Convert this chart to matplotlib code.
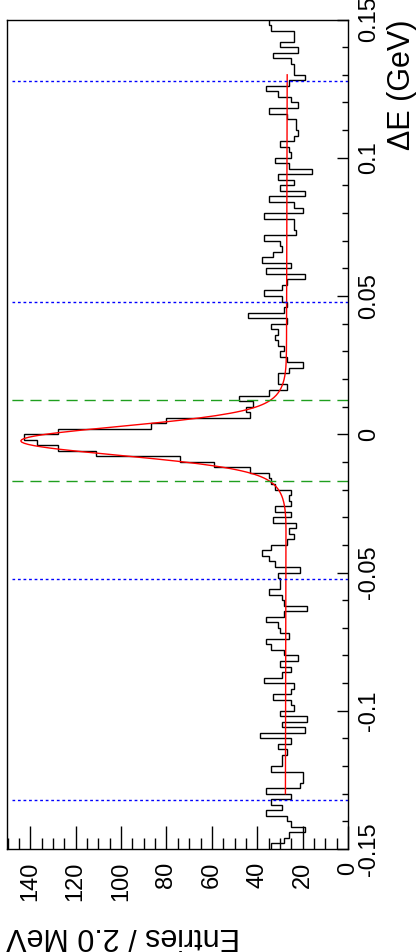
import numpy as np
import matplotlib
matplotlib.use('Agg')
import matplotlib.pyplot as plt
from matplotlib.ticker import MultipleLocator, FuncFormatter

plt.rcParams['font.family'] = ['Liberation Sans', 'DejaVu Sans']
plt.rcParams['axes.unicode_minus'] = False

# Delta E histogram, 2 MeV bins from -0.15 to 0.15 GeV
bin_lo = -0.15
bin_hi = 0.15
counts = [34, 28, 26, 19, 25, 27, 36, 29, 34, 25,
          36, 21, 20, 20, 34, 29, 29, 27, 31, 25,
          39, 19, 29, 18, 30, 24, 25, 33, 25, 24,
          37, 29, 25, 30, 22, 28, 34, 36, 26, 30,
          31, 36, 28, 18, 28, 29, 35, 30, 30, 31,
          21, 32, 35, 38, 34, 27, 24, 26, 23, 33,
          25, 32, 25, 26, 25, 32, 34, 35, 43, 59,
          74, 111, 128, 137, 143, 128, 87, 80, 43, 45,
          42, 48, 35, 27, 31, 31, 26, 20, 27, 30,
          28, 31, 32, 31, 34, 27, 44, 28, 27, 29,
          37, 29, 27, 19, 36, 25, 38, 33, 29, 30,
          37, 23, 24, 24, 37, 20, 24, 35, 19, 30,
          24, 31, 16, 26, 32, 25, 26, 30, 24, 22,
          23, 23, 27, 35, 22, 25, 31, 36, 26, 19,
          24, 24, 25, 33, 22, 30, 24, 24, 34, 35]

# fit: two gaussians + linear background
fit_range = (-0.13, 0.13)
mean = -0.0024
amp1, sigma1 = 95.0, 0.0050
amp2, sigma2 = 22.0, 0.0090
bkg0, bkg1 = 27.2, -3.0

signal_box = [-0.0169, 0.0124]
sideband_lines = [-0.1322, -0.0522, 0.0477, 0.1276]

edges = np.linspace(bin_lo, bin_hi, len(counts) + 1)

fig = plt.figure(figsize=(4.18, 9.52), dpi=100)
ax = fig.add_axes([0.0156, 0.1082, 0.817, 0.8713])

ax.stairs(counts, edges, orientation='horizontal', baseline=None, color='black', lw=1.0)

xf = np.linspace(fit_range[0], fit_range[1], 600)
yf = (bkg0 + bkg1 * xf
      + amp1 * np.exp(-0.5 * ((xf - mean) / sigma1) ** 2)
      + amp2 * np.exp(-0.5 * ((xf - mean) / sigma2) ** 2))
ax.plot(yf, xf, color='red', lw=1.0)

for v in sideband_lines:
    ax.plot([0, 148], [v, v], color='blue', lw=1.0, ls=(0, (2, 2)))
for v in signal_box:
    ax.plot([0, 150.5], [v, v], color='#1f9f1f', lw=1.0, ls=(0, (8, 5)))

ax.set_xlim(150.5, 0)
ax.set_ylim(bin_lo, bin_hi)

ax.yaxis.tick_right()
ax.yaxis.set_major_locator(MultipleLocator(0.05))
ax.yaxis.set_minor_locator(MultipleLocator(0.01))
ax.yaxis.set_major_formatter(FuncFormatter(lambda v, p: '%g' % round(v, 3)))
ax.tick_params(axis='y', which='both', direction='in', left=False, right=True,
               labelleft=False, labelright=True, labelrotation=90, labelsize=17, pad=7)
ax.tick_params(axis='y', which='major', length=8, width=1)
ax.tick_params(axis='y', which='minor', length=4.3, width=1)
for t in ax.get_yticklabels():
    t.set_va('center')

ax.xaxis.set_major_locator(MultipleLocator(20))
ax.xaxis.set_minor_locator(MultipleLocator(5))
ax.xaxis.set_major_formatter(FuncFormatter(lambda v, p: '%d' % v))
ax.tick_params(axis='x', which='both', direction='in', top=False, bottom=True,
               labelrotation=90, labelsize=17, pad=9)
ax.tick_params(axis='x', which='major', length=16.5, width=1)
ax.tick_params(axis='x', which='minor', length=8, width=1)

for s in ax.spines.values():
    s.set_linewidth(1.0)

fig.text(387 / 418, (952 - 20) / 952, 'ΔE (GeV)', rotation=90, ha='left', va='top', fontsize=22)
fig.text(6 / 418, (952 - 921) / 952, 'Entries / 2.0 MeV', rotation=180, ha='left', va='top', fontsize=22)

fig.savefig('out.png', dpi=100)
